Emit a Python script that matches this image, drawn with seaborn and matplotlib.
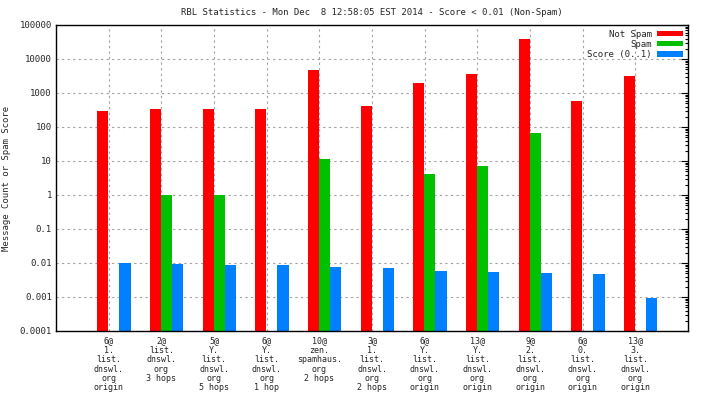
import numpy as np
import pandas as pd
import matplotlib
matplotlib.use("Agg")
import matplotlib.pyplot as plt
import matplotlib.ticker as mticker
from matplotlib.patches import Patch
import seaborn as sns

categories = [
    "6@\n1.\nlist.\ndnswl.\norg\norigin",
    "2@\nlist.\ndnswl.\norg\n3 hops",
    "5@\nY.\nlist.\ndnswl.\norg\n5 hops",
    "6@\nY.\nlist.\ndnswl.\norg\n1 hop",
    "10@\nzen.\nspamhaus.\norg\n2 hops",
    "3@\n1.\nlist.\ndnswl.\norg\n2 hops",
    "6@\nY.\nlist.\ndnswl.\norg\norigin",
    "13@\nY.\nlist.\ndnswl.\norg\norigin",
    "9@\n2.\nlist.\ndnswl.\norg\norigin",
    "6@\n0.\nlist.\ndnswl.\norg\norigin",
    "13@\n3.\nlist.\ndnswl.\norg\norigin",
]
not_spam = [300, 340, 340, 340, 4700, 415, 1960, 3600, 39000, 580, 3200]
spam = [0, 1, 1, 0, 11.5, 0, 4.1, 7, 66, 0, 0]
score = [0.0097, 0.0091, 0.0085, 0.0085, 0.0075, 0.0070, 0.0058, 0.0054, 0.0051, 0.0047, 0.00094]
series_names = ["Not Spam", "Spam", "Score (0..1)"]
colors = ["#ff0000", "#00c000", "#0080ff"]
y_ticks = [0.0001, 0.001, 0.01, 0.1, 1, 10, 100, 1000, 10000, 100000]
y_tick_labels = ["0.0001", "0.001", "0.01", "0.1", "1", "10", "100", "1000", "10000", "100000"]
title = "RBL Statistics - Mon Dec  8 12:58:05 EST 2014 - Score < 0.01 (Non-Spam)"
ylabel = "Message Count or Spam Score"

rows = []
for name, vals in zip(series_names, [not_spam, spam, score]):
    for c, v in zip(categories, vals):
        rows.append({"cat": c, "series": name, "value": v if v > 0 else np.nan})
df = pd.DataFrame(rows)

sns.set_style("white")
plt.rcParams["font.family"] = ["DejaVu Sans Mono"]

fig = plt.figure(figsize=(7.04, 3.96), dpi=100)
ax = fig.add_axes([56 / 704, 1 - 331 / 396, 632 / 704, 306 / 396])
ax.set_yscale("log")
sns.barplot(data=df, x="cat", y="value", hue="series", order=categories,
            hue_order=series_names, palette=colors, width=0.63, saturation=1,
            errorbar=None, ax=ax, legend=False, linewidth=0, edgecolor="none")

n = len(categories)
ax.set_xlim(-1.1, n - 0.1)
ax.set_ylim(1e-4, 1e5)
ax.set_xticks(np.arange(n) - 0.1)
ax.set_xticklabels(categories, fontsize=6, linespacing=1.05)
ax.set_yticks(y_ticks)
ax.set_yticklabels(y_tick_labels, fontsize=6.5)
ax.yaxis.set_minor_locator(mticker.LogLocator(base=10, subs=np.arange(2, 10), numticks=20))
ax.yaxis.set_minor_formatter(mticker.NullFormatter())
ax.tick_params(axis="both", which="both", direction="in", top=True, right=True,
               color="black", width=0.8)
ax.tick_params(axis="y", which="major", length=5, pad=3)
ax.tick_params(axis="y", which="minor", length=2.5)
ax.tick_params(axis="x", which="major", length=0, pad=4)
ax.grid(True, which="major", color="#a0a0a0", linestyle=(0, (2, 3)), linewidth=0.8)
ax.set_axisbelow(True)
for s in ax.spines.values():
    s.set_color("black")
    s.set_linewidth(1)
    s.set_visible(True)
ax.set_xlabel("")
ax.set_ylabel(ylabel, fontsize=6.5, labelpad=6)
ax.set_title(title, fontsize=6.5, pad=7)

handles = [Patch(facecolor=c, edgecolor="none") for c in colors]
ax.legend(handles, series_names, loc="upper right", frameon=False, markerfirst=False,
          fontsize=6.5, handlelength=2.9, handleheight=0.55, labelspacing=0.15,
          handletextpad=0.6, borderaxespad=0.3, borderpad=0.2)

fig.savefig("out.png", dpi=100, facecolor="white")
